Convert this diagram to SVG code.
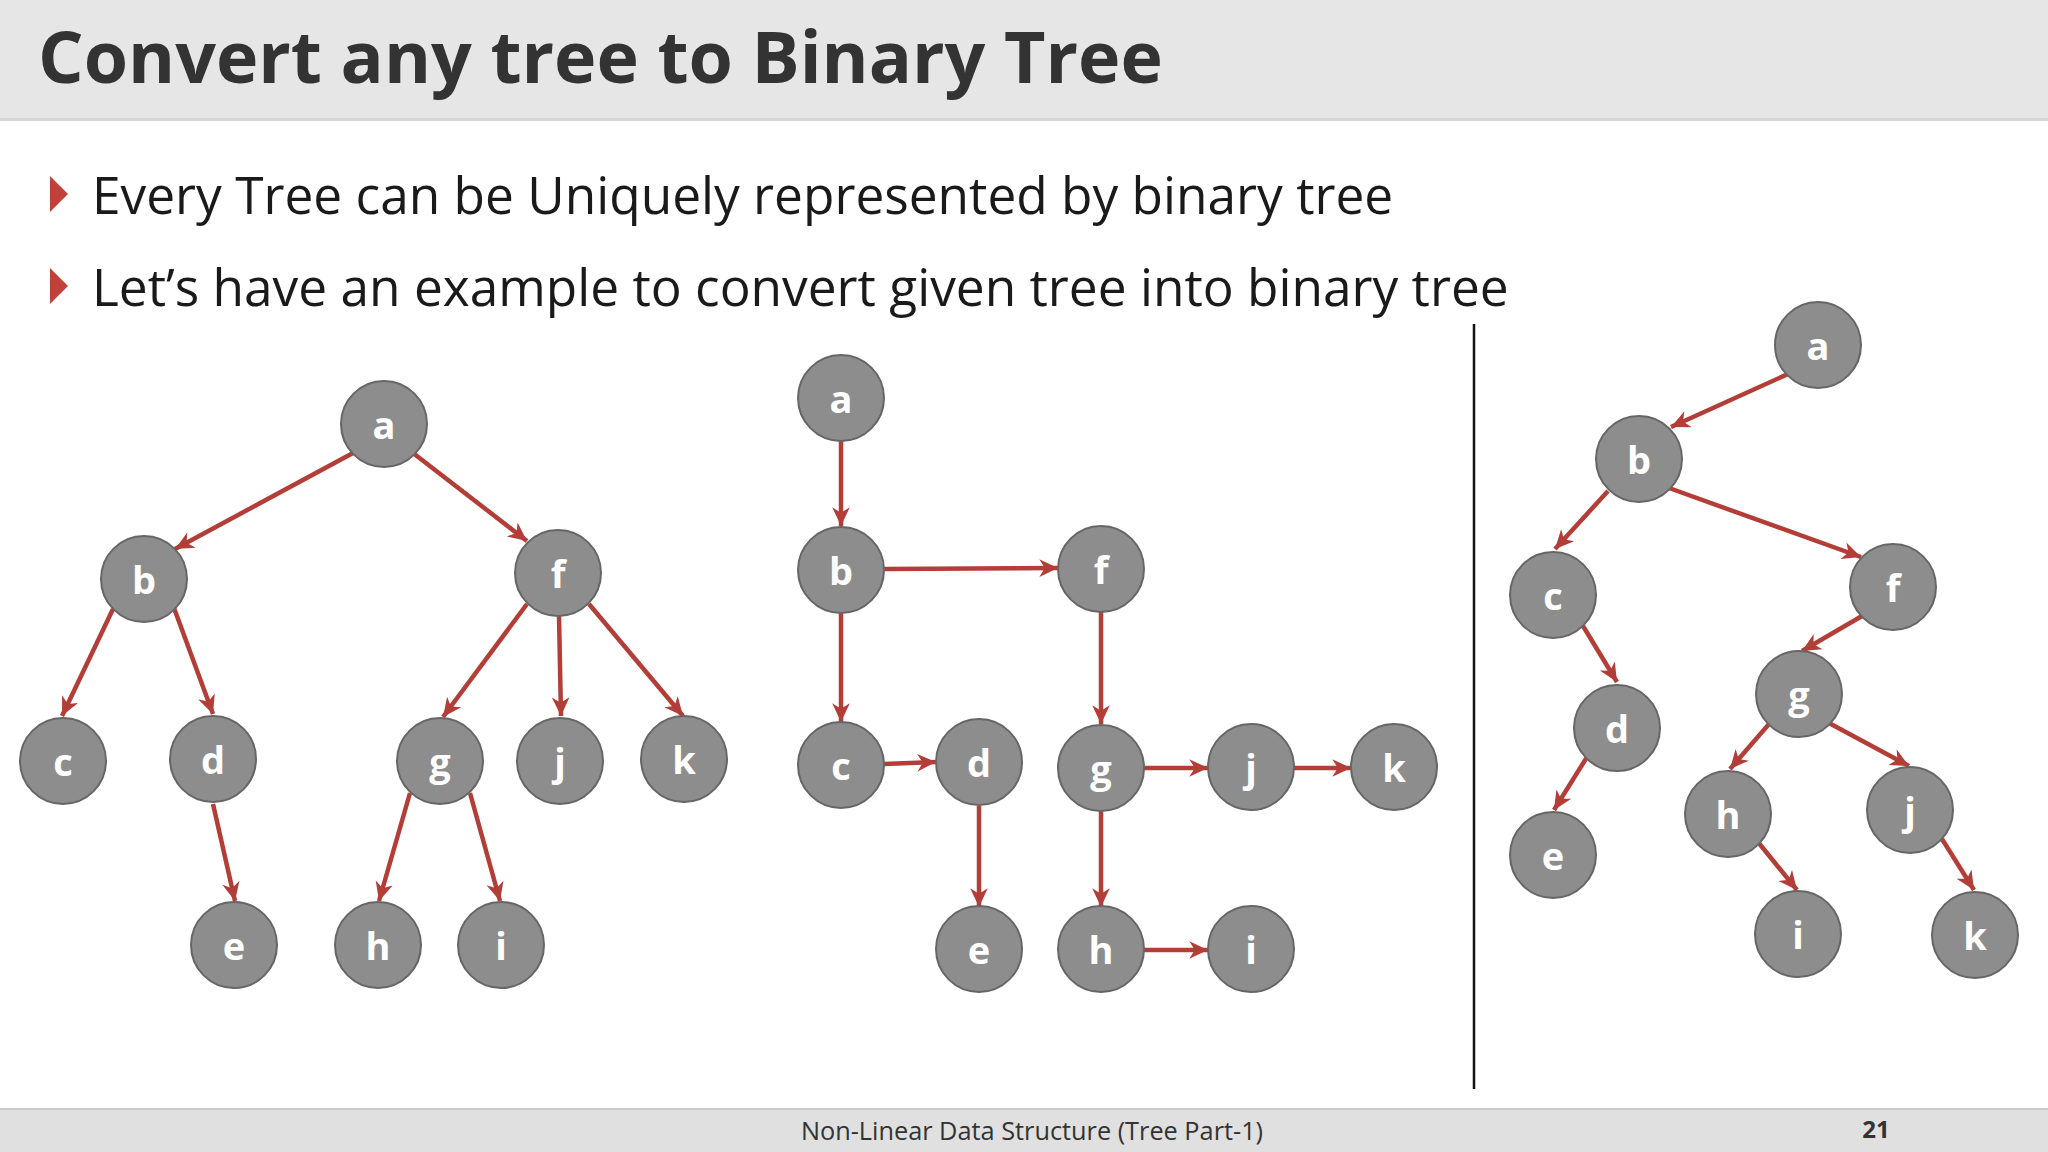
<svg xmlns="http://www.w3.org/2000/svg" width="2048" height="1152" viewBox="0 0 2048 1152">
<defs>
<marker id="arr" markerUnits="userSpaceOnUse" markerWidth="22" markerHeight="22" viewBox="0 0 20 20" refX="18" refY="10" orient="auto">
<path d="M1,2 L18,10 L1,18 L6,10 Z" fill="#b33d37"/>
</marker>
<style>
.n circle{fill:#8d8d8d;stroke:#666;stroke-width:2}
.n text{font-family:"Open Sans","Noto Sans",sans-serif;font-weight:bold;font-size:38px;fill:#fff;text-anchor:middle}
.e line{stroke:#b33d37;stroke-width:4.5;marker-end:url(#arr)}
</style>
</defs>
<rect width="2048" height="1152" fill="#fff"/>
<rect width="2048" height="120" fill="#e6e6e6"/>
<rect y="118" width="2048" height="3" fill="#d6d6d6"/>
<text x="38" y="83" font-family="Open Sans, Noto Sans, sans-serif" font-weight="bold" font-size="71.7" fill="#333">Convert any tree to Binary Tree</text>
<polygon points="50,176 68,194 50,212" fill="#c0403a"/>
<polygon points="50,268 68,286 50,304" fill="#c0403a"/>
<text x="92" y="214" font-family="Open Sans, Noto Sans, sans-serif" font-size="51.4" fill="#1a1a1a">Every Tree can be Uniquely represented by binary tree</text>
<text x="92" y="306" font-family="Open Sans, Noto Sans, sans-serif" font-size="51.4" fill="#1a1a1a">Let’s have an example to convert given tree into binary tree</text>
<line x1="1474" y1="324" x2="1474" y2="1089" stroke="#111" stroke-width="2.5"/>
<rect y="1109" width="2048" height="43" fill="#e0e0e0"/>
<rect y="1108" width="2048" height="2" fill="#c8c8c8"/>
<text x="1032" y="1140" text-anchor="middle" font-family="Open Sans, Noto Sans, sans-serif" font-size="25.3" fill="#333">Non-Linear Data Structure (Tree Part-1)</text>
<text x="1876" y="1138" text-anchor="middle" font-family="Open Sans, Noto Sans, sans-serif" font-weight="bold" font-size="24" fill="#333">21</text>

<g id="connectors" class="e">
<line x1="353" y1="453" x2="175" y2="549"/>
<line x1="413" y1="453" x2="527" y2="541"/>
<line x1="113" y1="609" x2="62" y2="716"/>
<line x1="174" y1="608" x2="213" y2="714"/>
<line x1="213" y1="804" x2="235" y2="901"/>
<line x1="527" y1="604" x2="443" y2="717"/>
<line x1="559" y1="616" x2="561" y2="716"/>
<line x1="589" y1="604" x2="683" y2="716"/>
<line x1="410" y1="793" x2="379" y2="901"/>
<line x1="470" y1="793" x2="500" y2="901"/>

<line x1="841" y1="441" x2="841" y2="526"/>
<line x1="884" y1="569" x2="1058" y2="568"/>
<line x1="841" y1="613" x2="841" y2="722"/>
<line x1="884" y1="764" x2="936" y2="762"/>
<line x1="1101" y1="612" x2="1101" y2="724"/>
<line x1="979" y1="806" x2="979" y2="907"/>
<line x1="1144" y1="768" x2="1208" y2="768"/>
<line x1="1294" y1="768" x2="1351" y2="768"/>
<line x1="1101" y1="811" x2="1101" y2="907"/>
<line x1="1144" y1="950" x2="1208" y2="950"/>

<line x1="1788" y1="374" x2="1671" y2="427"/>
<line x1="1608" y1="491" x2="1555" y2="549"/>
<line x1="1669" y1="488" x2="1861" y2="557"/>
<line x1="1583" y1="626" x2="1617" y2="682"/>
<line x1="1587" y1="757" x2="1554" y2="810"/>
<line x1="1862" y1="616" x2="1802" y2="651"/>
<line x1="1769" y1="724" x2="1730" y2="769"/>
<line x1="1829" y1="723" x2="1909" y2="766"/>
<line x1="1758" y1="842" x2="1797" y2="890"/>
<line x1="1942" y1="839" x2="1974" y2="890"/>
</g>

<g id="L-a" class="n"><circle cx="384" cy="424" r="43"/><text x="384" y="439">a</text></g>
<g id="L-b" class="n"><circle cx="144" cy="579" r="43"/><text x="144" y="594">b</text></g>
<g id="L-f" class="n"><circle cx="558" cy="573" r="43"/><text x="558" y="588">f</text></g>
<g id="L-c" class="n"><circle cx="63" cy="761" r="43"/><text x="63" y="776">c</text></g>
<g id="L-d" class="n"><circle cx="213" cy="759" r="43"/><text x="213" y="774">d</text></g>
<g id="L-g" class="n"><circle cx="440" cy="761" r="43"/><text x="440" y="776">g</text></g>
<g id="L-j" class="n"><circle cx="560" cy="761" r="43"/><text x="560" y="776">j</text></g>
<g id="L-k" class="n"><circle cx="684" cy="759" r="43"/><text x="684" y="774">k</text></g>
<g id="L-e" class="n"><circle cx="234" cy="945" r="43"/><text x="234" y="960">e</text></g>
<g id="L-h" class="n"><circle cx="378" cy="945" r="43"/><text x="378" y="960">h</text></g>
<g id="L-i" class="n"><circle cx="501" cy="945" r="43"/><text x="501" y="960">i</text></g>

<g id="M-a" class="n"><circle cx="841" cy="398" r="43"/><text x="841" y="413">a</text></g>
<g id="M-b" class="n"><circle cx="841" cy="570" r="43"/><text x="841" y="585">b</text></g>
<g id="M-f" class="n"><circle cx="1101" cy="569" r="43"/><text x="1101" y="584">f</text></g>
<g id="M-c" class="n"><circle cx="841" cy="765" r="43"/><text x="841" y="780">c</text></g>
<g id="M-d" class="n"><circle cx="979" cy="762" r="43"/><text x="979" y="777">d</text></g>
<g id="M-g" class="n"><circle cx="1101" cy="768" r="43"/><text x="1101" y="783">g</text></g>
<g id="M-j" class="n"><circle cx="1251" cy="767" r="43"/><text x="1251" y="782">j</text></g>
<g id="M-k" class="n"><circle cx="1394" cy="767" r="43"/><text x="1394" y="782">k</text></g>
<g id="M-e" class="n"><circle cx="979" cy="949" r="43"/><text x="979" y="964">e</text></g>
<g id="M-h" class="n"><circle cx="1101" cy="949" r="43"/><text x="1101" y="964">h</text></g>
<g id="M-i" class="n"><circle cx="1251" cy="949" r="43"/><text x="1251" y="964">i</text></g>

<g id="R-a" class="n"><circle cx="1818" cy="345" r="43"/><text x="1818" y="360">a</text></g>
<g id="R-b" class="n"><circle cx="1639" cy="459" r="43"/><text x="1639" y="474">b</text></g>
<g id="R-c" class="n"><circle cx="1553" cy="595" r="43"/><text x="1553" y="610">c</text></g>
<g id="R-f" class="n"><circle cx="1893" cy="587" r="43"/><text x="1893" y="602">f</text></g>
<g id="R-d" class="n"><circle cx="1617" cy="728" r="43"/><text x="1617" y="743">d</text></g>
<g id="R-g" class="n"><circle cx="1799" cy="694" r="43"/><text x="1799" y="709">g</text></g>
<g id="R-e" class="n"><circle cx="1553" cy="855" r="43"/><text x="1553" y="870">e</text></g>
<g id="R-h" class="n"><circle cx="1728" cy="814" r="43"/><text x="1728" y="829">h</text></g>
<g id="R-j" class="n"><circle cx="1910" cy="810" r="43"/><text x="1910" y="825">j</text></g>
<g id="R-i" class="n"><circle cx="1798" cy="934" r="43"/><text x="1798" y="949">i</text></g>
<g id="R-k" class="n"><circle cx="1975" cy="935" r="43"/><text x="1975" y="950">k</text></g>
</svg>
